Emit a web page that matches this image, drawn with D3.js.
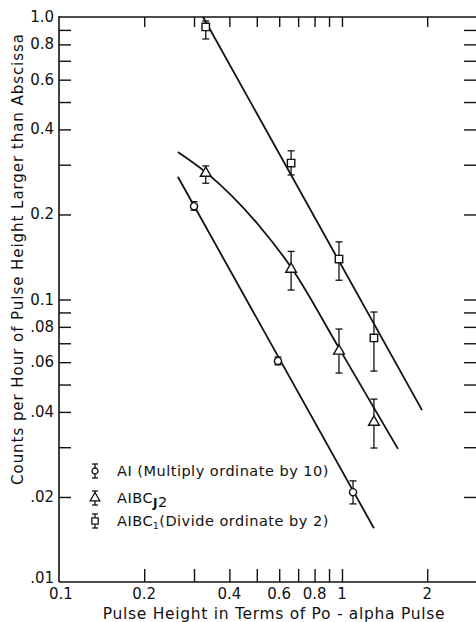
<!DOCTYPE html>
<html><head><meta charset="utf-8">
<script src="https://cdn.jsdelivr.net/npm/d3@7"></script>
<style>
html,body{margin:0;padding:0;background:#fff;}
svg{display:block;}
text{font-family:"DejaVu Sans",sans-serif;fill:#111;}
</style></head>
<body><div id="chart"></div>
<script>
// ---- data ----
const xTicks = [0.2,0.3,0.4,0.5,0.6,0.7,0.8,0.9,1,2];
const xTickLabels = [[0.1,"0.1"],[0.2,"0.2"],[0.4,"0.4"],[0.6,"0.6"],[0.8,"0.8"],[1,"1"],[2,"2"]];
const yTicks = [0.02,0.03,0.04,0.05,0.06,0.07,0.08,0.09,0.1,0.2,0.3,0.4,0.5,0.6,0.7,0.8,0.9];
const yTickLabels = [[1,"1.0"],[0.8,"0.8"],[0.6,"0.6"],[0.4,"0.4"],[0.2,"0.2"],[0.1,"0.1"],[0.08,".08"],[0.06,".06"],[0.04,".04"],[0.02,".02"],[0.01,".01"]];

// AI (Multiply ordinate by 10) - circles
const alX = [0.30, 0.594, 1.094];
const alY = [0.214, 0.0606, 0.0208];
const alLo = [0.207, 0.0587, 0.0189];
const alHi = [0.222, 0.0626, 0.0228];
const alLineX = [0.263, 1.297];
const alLineY = [0.272, 0.0155];

// AIBC_J2 - triangles
const bc2X = [0.330, 0.661, 0.976, 1.297];
const bc2Y = [0.280, 0.128, 0.0657, 0.0368];
const bc2Lo = [0.258, 0.108, 0.0549, 0.0298];
const bc2Hi = [0.297, 0.148, 0.0786, 0.0444];
const bc2CurveX = [0.263, 0.329, 0.513, 0.661, 0.976, 1.577];
const bc2CurveY = [0.333, 0.283, 0.181, 0.130, 0.0673, 0.0296];

// AIBC1 (Divide ordinate by 2) - squares
const bc1X = [0.330, 0.661, 0.976, 1.297];
const bc1Y = [0.922, 0.304, 0.139, 0.0731];
const bc1Lo = [0.836, 0.276, 0.117, 0.0558];
const bc1Hi = [0.968, 0.336, 0.160, 0.0903];
const bc1LineX = [0.323, 1.918];
const bc1LineY = [1.0, 0.0406];

// ---- drawing ----
const W = 476, H = 622;
const L = 59, R = 477, T = 17, B = 582;
const svg = d3.select("#chart").append("svg").attr("width", W).attr("height", H);
const x = d3.scaleLog().domain([0.1, 3]).range([L, R]);
const y = d3.scaleLog().domain([0.01, 1]).range([B, T]);
const ink = "#111";

// frame lines
svg.append("line").attr("x1", L).attr("x2", L).attr("y1", T - 1).attr("y2", B).attr("stroke", ink).attr("stroke-width", 1.6);
svg.append("line").attr("x1", L).attr("x2", R).attr("y1", B).attr("y2", B).attr("stroke", ink).attr("stroke-width", 1.6);
svg.append("line").attr("x1", L).attr("x2", R).attr("y1", T).attr("y2", T).attr("stroke", ink).attr("stroke-width", 1.4);
svg.append("line").attr("x1", R).attr("x2", R).attr("y1", T).attr("y2", B).attr("stroke", ink).attr("stroke-width", 1.4);

// axes with inward ticks via d3 axis generators
const axB = svg.append("g").attr("transform", `translate(0,${B})`)
  .call(d3.axisTop(x).tickValues(xTicks).tickSize(13).tickFormat(""));
const axT = svg.append("g").attr("transform", `translate(0,${T})`)
  .call(d3.axisBottom(x).tickValues(xTicks).tickSize(10).tickFormat(""));
const axL = svg.append("g").attr("transform", `translate(${L},0)`)
  .call(d3.axisRight(y).tickValues(yTicks).tickSize(12).tickFormat(""));
const axR = svg.append("g").attr("transform", `translate(${R},0)`)
  .call(d3.axisLeft(y).tickValues(yTicks).tickSize(13).tickFormat(""));
[axB, axT, axL, axR].forEach(g => {
  g.select(".domain").remove();
  g.selectAll("line").attr("stroke", ink).attr("stroke-width", 1.4);
});

// tick labels
svg.append("g").selectAll("text").data(xTickLabels).join("text")
  .attr("x", d => x(d[0]) + (d[0] === 0.1 ? 2 : 0)).attr("y", 599).attr("text-anchor", "middle")
  .attr("font-size", 15).text(d => d[1]);
svg.append("g").selectAll("text").data(yTickLabels).join("text")
  .attr("x", 54).attr("y", d => y(d[0]) + (d[0] === 0.01 ? 1 : 5)).attr("text-anchor", "end")
  .attr("font-size", 15).text(d => d[1]);

// axis titles
svg.append("text").attr("x", 274).attr("y", 619).attr("text-anchor", "middle")
  .attr("font-size", 15.5).attr("letter-spacing", 0.7).text("Pulse Height in Terms of Po - alpha Pulse");
svg.append("text").attr("transform", "translate(23,259) rotate(-90)").attr("text-anchor", "middle")
  .attr("font-size", 15).attr("letter-spacing", 0.95).text("Counts per Hour of Pulse Height Larger than Abscissa");

// lines
const line = d3.line().x(d => x(d[0])).y(d => y(d[1]));
const g = svg.append("g").attr("fill", "none").attr("stroke", ink).attr("stroke-width", 1.8);
g.append("path").attr("d", line(d3.zip(alLineX, alLineY)));
g.append("path").attr("d", line(d3.zip(bc1LineX, bc1LineY)));
g.append("path").attr("d", d3.line().x(d => x(d[0])).y(d => y(d[1])).curve(d3.curveMonotoneX)(d3.zip(bc2CurveX, bc2CurveY)));

// error bars
function errorBars(xs, lo, hi) {
  const eg = svg.append("g").attr("stroke", ink).attr("stroke-width", 1.3);
  xs.forEach((v, i) => {
    const cx = x(v);
    eg.append("line").attr("x1", cx).attr("x2", cx).attr("y1", y(hi[i])).attr("y2", y(lo[i]));
    eg.append("line").attr("x1", cx - 3.5).attr("x2", cx + 3.5).attr("y1", y(hi[i])).attr("y2", y(hi[i]));
    eg.append("line").attr("x1", cx - 3.5).attr("x2", cx + 3.5).attr("y1", y(lo[i])).attr("y2", y(lo[i]));
  });
}
errorBars(alX, alLo, alHi);
errorBars(bc2X, bc2Lo, bc2Hi);
errorBars(bc1X, bc1Lo, bc1Hi);

// markers
const mk = svg.append("g").attr("fill", "#fff").attr("stroke", ink).attr("stroke-width", 1.4);
const circ = d3.symbol().type(d3.symbolCircle).size(40);
const tri = d3.symbol().type(d3.symbolTriangle).size(50);
const sq = d3.symbol().type(d3.symbolSquare).size(55);
mk.selectAll(".c").data(d3.zip(alX, alY)).join("path").attr("d", circ)
  .attr("transform", d => `translate(${x(d[0])},${y(d[1])})`);
mk.selectAll(".t").data(d3.zip(bc2X, bc2Y)).join("path").attr("d", tri)
  .attr("transform", d => `translate(${x(d[0])},${y(d[1])})`);
mk.selectAll(".s").data(d3.zip(bc1X, bc1Y)).join("path").attr("d", sq)
  .attr("transform", d => `translate(${x(d[0])},${y(d[1])})`);

// legend
const legend = [
  {sym: circ, yy: 471},
  {sym: tri, yy: 498},
  {sym: sq, yy: 521}
];
legend.forEach(l => {
  const lg = svg.append("g").attr("stroke", ink).attr("stroke-width", 1.3);
  lg.append("line").attr("x1", 95).attr("x2", 95).attr("y1", l.yy - 7).attr("y2", l.yy + 7);
  lg.append("line").attr("x1", 92).attr("x2", 98).attr("y1", l.yy - 7).attr("y2", l.yy - 7);
  lg.append("line").attr("x1", 92).attr("x2", 98).attr("y1", l.yy + 7).attr("y2", l.yy + 7);
  lg.append("path").attr("d", l.sym.size(l.sym === circ ? 28 : 40)()).attr("fill", "#fff")
    .attr("transform", `translate(95,${l.yy})`);
});
const t1 = svg.append("text").attr("x", 117).attr("y", 476).attr("font-size", 14.5).attr("letter-spacing", 0.5);
t1.text("AI (Multiply ordinate by 10)");
const t2 = svg.append("text").attr("x", 117).attr("y", 503).attr("font-size", 14.5).attr("letter-spacing", 0.5);
t2.append("tspan").text("AIBC");
t2.append("tspan").attr("dy", 4).attr("font-size", 12).attr("font-weight", "bold").text("J");
t2.append("tspan").attr("font-size", 14.5).attr("font-weight", "normal").text("2");
const t3 = svg.append("text").attr("x", 117).attr("y", 526).attr("font-size", 14.5).attr("letter-spacing", 0.5);
t3.append("tspan").text("AIBC");
t3.append("tspan").attr("dy", 3).attr("font-size", 9).text("1");
t3.append("tspan").attr("dy", -3).attr("font-size", 14.5).text("(Divide ordinate by 2)");
</script>
</body></html>
